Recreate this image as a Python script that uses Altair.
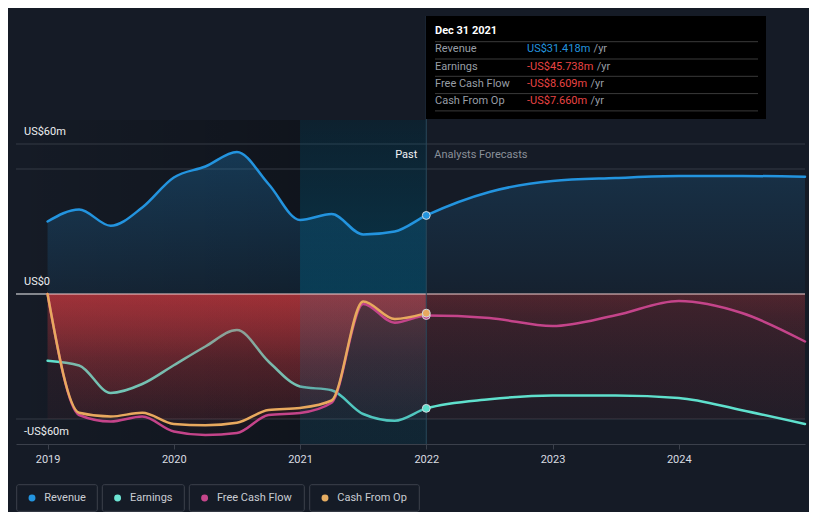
import altair as alt
import pandas as pd

# ---------------- data ----------------
past_years = [2019.0, 2019.25, 2019.5, 2019.75, 2020.0, 2020.25, 2020.5,
              2020.75, 2021.0, 2021.25, 2021.5, 2021.75, 2022.0]
past_revenue = [29.0, 33.8, 27.3, 34.6, 46.6, 51.0, 56.8, 44.0, 29.6, 32.0, 23.8, 25.0, 31.418]
past_earnings = [-26.7, -28.6, -39.6, -36.0, -28.5, -21.0, -14.4, -27.0, -37.0, -38.5, -48.0, -50.7, -45.738]
past_fcf = [0.0, -48.4, -51.0, -49.0, -55.0, -56.4, -55.6, -48.4, -47.6, -43.5, -4.0, -11.5, -8.609]
past_cfo = [0.0, -47.5, -49.0, -47.5, -52.0, -52.5, -51.5, -46.4, -45.6, -42.6, -3.0, -10.0, -7.660]

fc_years = [2022.0, 2022.5, 2023.0, 2023.5, 2024.0, 2024.5, 2025.0]
fc_revenue = [31.418, 40.8, 45.2, 46.4, 47.2, 47.2, 46.9]
fc_earnings = [-45.738, -42.1, -40.6, -40.6, -41.6, -46.5, -52.0]
fc_fcf = [-8.609, -9.6, -12.8, -8.5, -2.8, -7.6, -19.0]

series_names = ["Revenue", "Earnings", "Free Cash Flow", "Cash From Op"]
series_colors = ["#2394df", "#5fe0cd", "#c4448a", "#e8a95e"]
legend_dot_colors = ["#2394df", "#6de4d3", "#c5468b", "#e6ad62"]
year_ticks = [2019, 2020, 2021, 2022, 2023, 2024]
y_tick_values = [60, 0, -60]
y_tick_labels = ["US$60m", "US$0", "-US$60m"]
grid_values = [60, 50, -50]
tooltip_date = "Dec 31 2021"
highlight_start = 2021.0
past_label = "Past"
forecast_label = "Analysts Forecasts"

# ---------------- layout / style ----------------
FONT = "Roboto"
FS = 11
BG = "#151b26"
W, H = 789, 428
X_MIN, X_MAX = 2018.75, 2025.0
Y_MIN, Y_MAX = -60.0, 111.2
PX_PER_UNIT = H / (Y_MAX - Y_MIN)
RED = (210, 58, 64)
BLUE = (35, 148, 223)
BAND_TOP_PX = 104  # top of the shaded past/highlight regions (plot pixels)

xs = alt.Scale(domain=[X_MIN, X_MAX], nice=False, zero=False)
ys = alt.Scale(domain=[Y_MIN, Y_MAX], nice=False, zero=False)
x_axis = alt.Axis(values=year_ticks, format="d", title=None, grid=False,
                  domainColor="#3b404b", tickColor="#3b404b", tickSize=5,
                  labelColor="#d9dce1", labelFont=FONT, labelFontSize=FS,
                  labelPadding=4, labelFlush=False)


def XF(f):
    return alt.X(f, type="quantitative", scale=xs, axis=x_axis)


def XD(d):
    return alt.X(datum=d, type="quantitative", scale=xs, axis=x_axis)


def YF(f):
    return alt.Y(f, type="quantitative", scale=ys, axis=None)


def YD(d):
    return alt.Y(datum=d, type="quantitative", scale=ys, axis=None)


def py2v(py):
    return Y_MAX - py / PX_PER_UNIT


def rgba(rgb, a):
    return f"rgba({rgb[0]},{rgb[1]},{rgb[2]},{a})"


def grad(stops, vertical=True):
    kw = dict(x1=0, y1=0, x2=0, y2=1) if vertical else dict(x1=0, y1=0, x2=1, y2=0)
    return alt.Gradient(gradient="linear",
                        stops=[alt.GradientStop(offset=o, color=c) for o, c in stops], **kw)


def fmt(v):
    return ("-" if v < 0 else "") + f"US${abs(v):.3f}m"


# approximate Roboto advance widths (em) for the tooltip value strings
ADV = {"U": 0.637, "S": 0.594, "$": 0.5615, ".": 0.263, "m": 0.874, "-": 0.276}


def text_w(s, size):
    return sum(ADV.get(ch, 0.5615) for ch in s) * size


past_df = pd.DataFrame({"year": past_years, "revenue": past_revenue,
                        "earnings": past_earnings, "fcf": past_fcf, "cfo": past_cfo})
fc_df = pd.DataFrame({"year": fc_years, "revenue": fc_revenue,
                      "earnings": fc_earnings, "fcf": fc_fcf})
full_df = pd.concat([past_df.drop(columns="cfo"), fc_df.iloc[1:]], ignore_index=True)
one = pd.DataFrame({"k": [0]})
band_top = py2v(BAND_TOP_PX)

layers = []

# darker "past" background, fading in from the left
dark_end = fc_years[0]
dark_off = (highlight_start - X_MIN) / (dark_end - X_MIN)
layers.append(alt.Chart(one).mark_rect(
    fill=grad([(0, rgba((0, 0, 0), 0)), (dark_off, rgba((0, 0, 0), 0.25)), (1, rgba((0, 0, 0), 0.25))],
              vertical=False)
).encode(x=XD(X_MIN), x2=alt.X2(datum=dark_end), y=YD(Y_MIN), y2=alt.Y2(datum=band_top)))

# grid lines
layers.append(alt.Chart(pd.DataFrame({"v": grid_values})).mark_rule(color="#353a44", strokeWidth=1)
              .encode(x=XD(X_MIN), x2=alt.X2(datum=X_MAX), y=YF("v")))

# faint negative zone
layers.append(alt.Chart(one).mark_rect(
    fill=grad([(0, rgba(RED, 0.14)), (1, rgba(RED, 0.06))])
).encode(x=XD(past_years[0]), x2=alt.X2(datum=X_MAX), y=YD(0), y2=alt.Y2(datum=grid_values[-1])))

past_stops = [(0, rgba(RED, 0.32)), (0.5, rgba(RED, 0.13)), (1, rgba(RED, 0.03))]
fc_stops = [(0, rgba(RED, 0.10)), (0.5, rgba(RED, 0.035)), (1, rgba(RED, 0.01))]

# revenue areas
layers.append(alt.Chart(past_df).mark_area(
    interpolate="monotone", opacity=1,
    color=grad([(0, rgba(BLUE, 0.27)), (1, rgba(BLUE, 0.09))])
).encode(x=XF("year"), y=YF("revenue"), y2=alt.Y2(datum=0)))
layers.append(alt.Chart(fc_df).mark_area(
    interpolate="monotone", opacity=1,
    color=grad([(0, rgba(BLUE, 0.17)), (1, rgba(BLUE, 0.05))])
).encode(x=XF("year"), y=YF("revenue"), y2=alt.Y2(datum=0)))

# earnings areas
layers.append(alt.Chart(past_df).mark_area(interpolate="monotone", opacity=1, color=grad(past_stops))
              .encode(x=XF("year"), y=YF("earnings"), y2=alt.Y2(datum=0)))
layers.append(alt.Chart(fc_df).mark_area(interpolate="monotone", opacity=1, color=grad(fc_stops))
              .encode(x=XF("year"), y=YF("earnings"), y2=alt.Y2(datum=0)))

# earnings line (beneath the cash-flow fills)
layers.append(alt.Chart(full_df).mark_line(interpolate="monotone", color=series_colors[1],
                                           strokeWidth=2.5, strokeCap="round")
              .encode(x=XF("year"), y=YF("earnings")))

# cash flow areas
layers.append(alt.Chart(past_df).mark_area(interpolate="monotone", opacity=1, color=grad(past_stops))
              .encode(x=XF("year"), y=YF("fcf"), y2=alt.Y2(datum=0)))
layers.append(alt.Chart(past_df).mark_area(interpolate="monotone", opacity=1, color=grad(past_stops))
              .encode(x=XF("year"), y=YF("cfo"), y2=alt.Y2(datum=0)))
layers.append(alt.Chart(fc_df).mark_area(interpolate="monotone", opacity=1, color=grad(fc_stops))
              .encode(x=XF("year"), y=YF("fcf"), y2=alt.Y2(datum=0)))

# highlighted last-year band
span = band_top - Y_MIN
z = (band_top - 0) / span
z60 = (band_top - 60) / span
band_stops = [(0, rgba((0, 85, 120), 0.20)), (z60, rgba((0, 85, 120), 0.24)),
              (z - 0.002, rgba((0, 95, 130), 0.45)), (z, rgba((50, 120, 150), 0.18)),
              (1, rgba((20, 100, 135), 0.22))]
layers.append(alt.Chart(one).mark_rect(fill=grad(band_stops))
              .encode(x=XD(highlight_start), x2=alt.X2(datum=fc_years[0]),
                      y=YD(Y_MIN), y2=alt.Y2(datum=band_top)))

# zero line
layers.append(alt.Chart(one).mark_rule(color="#f4f4f4", strokeWidth=1)
              .encode(x=XD(X_MIN), x2=alt.X2(datum=past_years[0]), y=YD(0)))
layers.append(alt.Chart(one).mark_rule(color="#f2cfcf", strokeWidth=1)
              .encode(x=XD(past_years[0]), x2=alt.X2(datum=X_MAX), y=YD(0)))

# remaining lines
layers.append(alt.Chart(full_df).mark_line(interpolate="monotone", color=series_colors[2],
                                           strokeWidth=2.5, strokeCap="round")
              .encode(x=XF("year"), y=YF("fcf")))
layers.append(alt.Chart(past_df).mark_line(interpolate="monotone", color=series_colors[3],
                                           strokeWidth=2.5, strokeCap="round")
              .encode(x=XF("year"), y=YF("cfo")))
layers.append(alt.Chart(full_df).mark_line(interpolate="monotone", color=series_colors[0],
                                           strokeWidth=2.5, strokeCap="round")
              .encode(x=XF("year"), y=YF("revenue")))

# "now" vertical line
layers.append(alt.Chart(one).mark_rule(color="#29485a", strokeWidth=1)
              .encode(x=XD(fc_years[0]), y=YD(Y_MIN), y2=alt.Y2(datum=Y_MAX)))

# markers at the latest reported point
pts = pd.DataFrame({
    "year": [past_years[-1]] * 4,
    "v": [past_revenue[-1], past_earnings[-1], past_fcf[-1], past_cfo[-1]],
    "c": series_colors,
    "o": [0, 1, 2, 3],
})
layers.append(alt.Chart(pts).mark_circle(size=62, opacity=1, stroke="#d3d8de", strokeWidth=1)
              .encode(x=XF("year"), y=YF("v"), color=alt.Color("c:N", scale=None),
                      order=alt.Order("o:Q")))

# y labels
layers.append(alt.Chart(pd.DataFrame({"v": y_tick_values, "t": y_tick_labels})).mark_text(
    align="left", baseline="middle", dx=8, dy=-12, font=FONT, fontSize=FS, color="#eceef0"
).encode(x=XD(X_MIN), y=YF("v"), text="t:N"))

# Past / Analysts Forecasts
layers.append(alt.Chart(one).mark_text(align="right", baseline="middle", dx=-9, dy=11,
                                       font=FONT, fontSize=FS, color="#f2f3f5")
              .encode(x=XD(fc_years[0]), y=YD(y_tick_values[0]), text=alt.value(past_label)))
layers.append(alt.Chart(one).mark_text(align="left", baseline="middle", dx=8, dy=11,
                                       font=FONT, fontSize=FS, color="#8a9099")
              .encode(x=XD(fc_years[0]), y=YD(y_tick_values[0]), text=alt.value(forecast_label)))

# tooltip box
TIP_LX, TIP_VX = 419, 511
layers.append(alt.Chart(one).mark_rect(color="#000000")
              .encode(x=alt.value(410), x2=alt.value(750), y=alt.value(0), y2=alt.value(103)))
layers.append(alt.Chart(one).mark_text(align="left", baseline="middle", font=FONT, fontSize=FS,
                                       fontWeight="bold", color="#ffffff")
              .encode(x=alt.value(TIP_LX), y=alt.value(15), text=alt.value(tooltip_date)))
sep_df = pd.DataFrame({"v": [py2v(25.7 + 17.3 * i) for i in range(5)]})
layers.append(alt.Chart(sep_df).mark_rule(color="#3a3a3a", strokeWidth=1)
              .encode(x=alt.value(TIP_LX), x2=alt.value(742), y=YF("v")))
tip_vals = [past_revenue[-1], past_earnings[-1], past_fcf[-1], past_cfo[-1]]
for i, (name, v) in enumerate(zip(series_names, tip_vals)):
    yv = py2v(33.3 + 17.25 * i)
    vtxt = fmt(v)
    vcol = series_colors[0] if v >= 0 else "#e84444"
    layers.append(alt.Chart(one).mark_text(align="left", baseline="middle", font=FONT, fontSize=FS,
                                           color="#989ea6")
                  .encode(x=alt.value(TIP_LX), y=YD(yv), text=alt.value(name)))
    layers.append(alt.Chart(one).mark_text(align="left", baseline="middle", font=FONT, fontSize=FS,
                                           color=vcol)
                  .encode(x=alt.value(TIP_VX), y=YD(yv), text=alt.value(vtxt)))
    layers.append(alt.Chart(one).mark_text(align="left", baseline="middle", font=FONT, fontSize=FS,
                                           color="#989ea6")
                  .encode(x=alt.value(TIP_VX + text_w(vtxt, FS) + 3.5), y=YD(yv), text=alt.value("/yr")))

# legend (bordered pills under the chart)
LEG_X = [0.7, 86.3, 173.3, 293.7]
LEG_W = [80.6, 82.0, 115.0, 109.6]
LEG_Y0, LEG_Y1 = 468.7, 495.3
for name, col, lx, lw in zip(series_names, legend_dot_colors, LEG_X, LEG_W):
    layers.append(alt.Chart(one).mark_rect(fillOpacity=0, stroke="#3c414c", strokeWidth=1, cornerRadius=2)
                  .encode(x=alt.value(lx), x2=alt.value(lx + lw), y=alt.value(LEG_Y0), y2=alt.value(LEG_Y1)))
    layers.append(alt.Chart(one).mark_circle(size=48, opacity=1, color=col)
                  .encode(x=alt.value(lx + 15.3), y=alt.value((LEG_Y0 + LEG_Y1) / 2)))
    layers.append(alt.Chart(one).mark_text(align="left", baseline="middle", font=FONT, fontSize=FS,
                                           color="#c9cdd3")
                  .encode(x=alt.value(lx + 27.6), y=alt.value((LEG_Y0 + LEG_Y1) / 2), text=alt.value(name)))

chart = alt.layer(*layers).properties(
    width=W, height=H,
    padding={"left": 8, "top": 8, "right": 4, "bottom": 68},
    autosize=alt.AutoSizeParams(type="none"),
    background=BG,
    usermeta={"embedOptions": {"defaultStyle": "html, body { background: #151b26; }"}},
).configure_view(strokeWidth=0)

chart.save("out.html", embed_options={"renderer": "svg", "actions": False})
